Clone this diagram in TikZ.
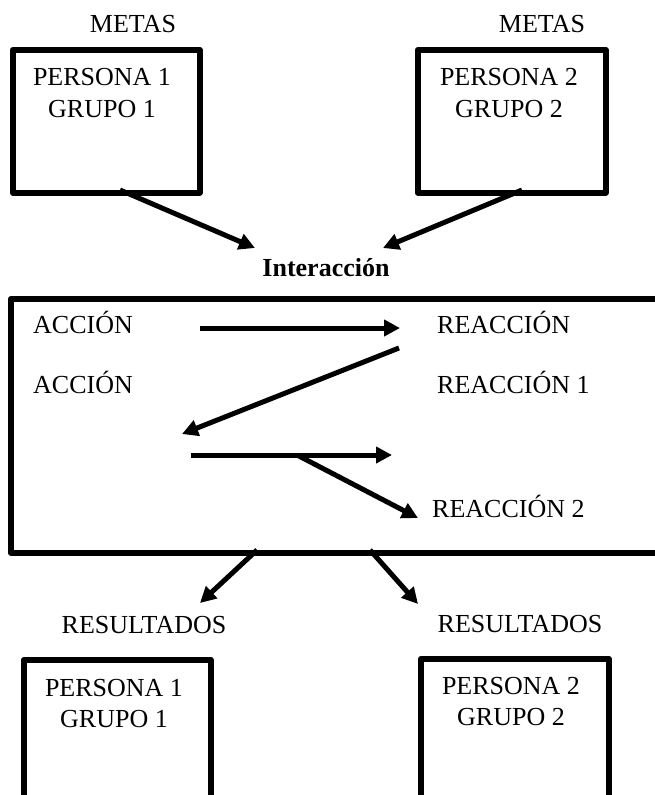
\documentclass[tikz,border=0pt]{standalone}
\usepackage{fontspec}
\setmainfont{Liberation Serif}
\usetikzlibrary{arrows.meta}
\begin{document}
\begin{tikzpicture}[x=1pt,y=-1pt,
  box/.style={draw, line width=5.5pt, line join=round, inner sep=0pt, anchor=north west},
  lbl/.style={inner sep=0pt, anchor=base, font=\fontsize{26}{30}\selectfont},
  lblw/.style={inner sep=0pt, anchor=base west, font=\fontsize{26}{30}\selectfont},
  arr/.style={line width=5pt, -{Triangle[length=16pt,width=16pt]}},
]
\useasboundingbox (0,0) rectangle (655,795);
\clip (0,0) rectangle (655,795);

% goal boxes
\node[lbl] (metas1) at (133,32) {METAS};
\node[lbl] (metas2) at (542,32) {METAS};
\node[box, minimum width=187pt, minimum height=143pt] (goal1) at (10,47) {};
\node[box, minimum width=188pt, minimum height=143pt] (goal2) at (415,47) {};
\node[lbl] (g1a) at (102,85) {PERSONA 1};
\node[lbl] (g1b) at (102,117) {GRUPO 1};
\node[lbl] (g2a) at (509,85) {PERSONA 2};
\node[lbl] (g2b) at (509,117) {GRUPO 2};

% interaction
\node[lbl, font=\fontsize{26}{30}\selectfont\bfseries] (inter) at (326,276) {Interacción};
\coordinate (g1out) at (120,190);
\coordinate (g2out) at (522,190);
\coordinate (inL) at (255,248);
\coordinate (inR) at (383,248);
\draw[arr] (g1out) -- (inL);
\draw[arr] (g2out) -- (inR);

\node[box, minimum width=680pt, minimum height=254pt] (frame) at (8,296) {};
\node[lblw] (acc1) at (33,333) {ACCIÓN};
\node[lblw] (rea) at (437,333) {REACCIÓN};
\node[lblw] (acc2) at (33,393) {ACCIÓN};
\node[lblw] (rea1) at (437,393) {REACCIÓN 1};
\node[lblw] (rea2) at (432,517) {REACCIÓN 2};

\coordinate (a1s) at (200,328);
\coordinate (a1e) at (400,328);
\coordinate (a2s) at (399,348);
\coordinate (a2e) at (182,434);
\coordinate (a3s) at (191,455);
\coordinate (a3e) at (392,455);
\coordinate (a4s) at (297,455);
\coordinate (a4e) at (418,518);
\draw[arr] (a1s) -- (a1e);
\draw[arr] (a2s) -- (a2e);
\draw[arr] (a3s) -- (a3e);
\draw[arr] (a4s) -- (a4e);

% results
\coordinate (outL) at (257,550);
\coordinate (outR) at (370,550);
\coordinate (resL) at (200,603);
\coordinate (resR) at (418,604);
\draw[arr] (outL) -- (resL);
\draw[arr] (outR) -- (resR);

\node[lbl] (res1) at (144,633) {RESULTADOS};
\node[lbl] (res2) at (520,632) {RESULTADOS};
\node[box, minimum width=187pt, minimum height=180pt] (out1) at (21,657) {};
\node[box, minimum width=188pt, minimum height=180pt] (out2) at (418,656) {};
\node[lbl] (o1a) at (114,696) {PERSONA 1};
\node[lbl] (o1b) at (114,727) {GRUPO 1};
\node[lbl] (o2a) at (511,694) {PERSONA 2};
\node[lbl] (o2b) at (511,725) {GRUPO 2};
\end{tikzpicture}
\end{document}
